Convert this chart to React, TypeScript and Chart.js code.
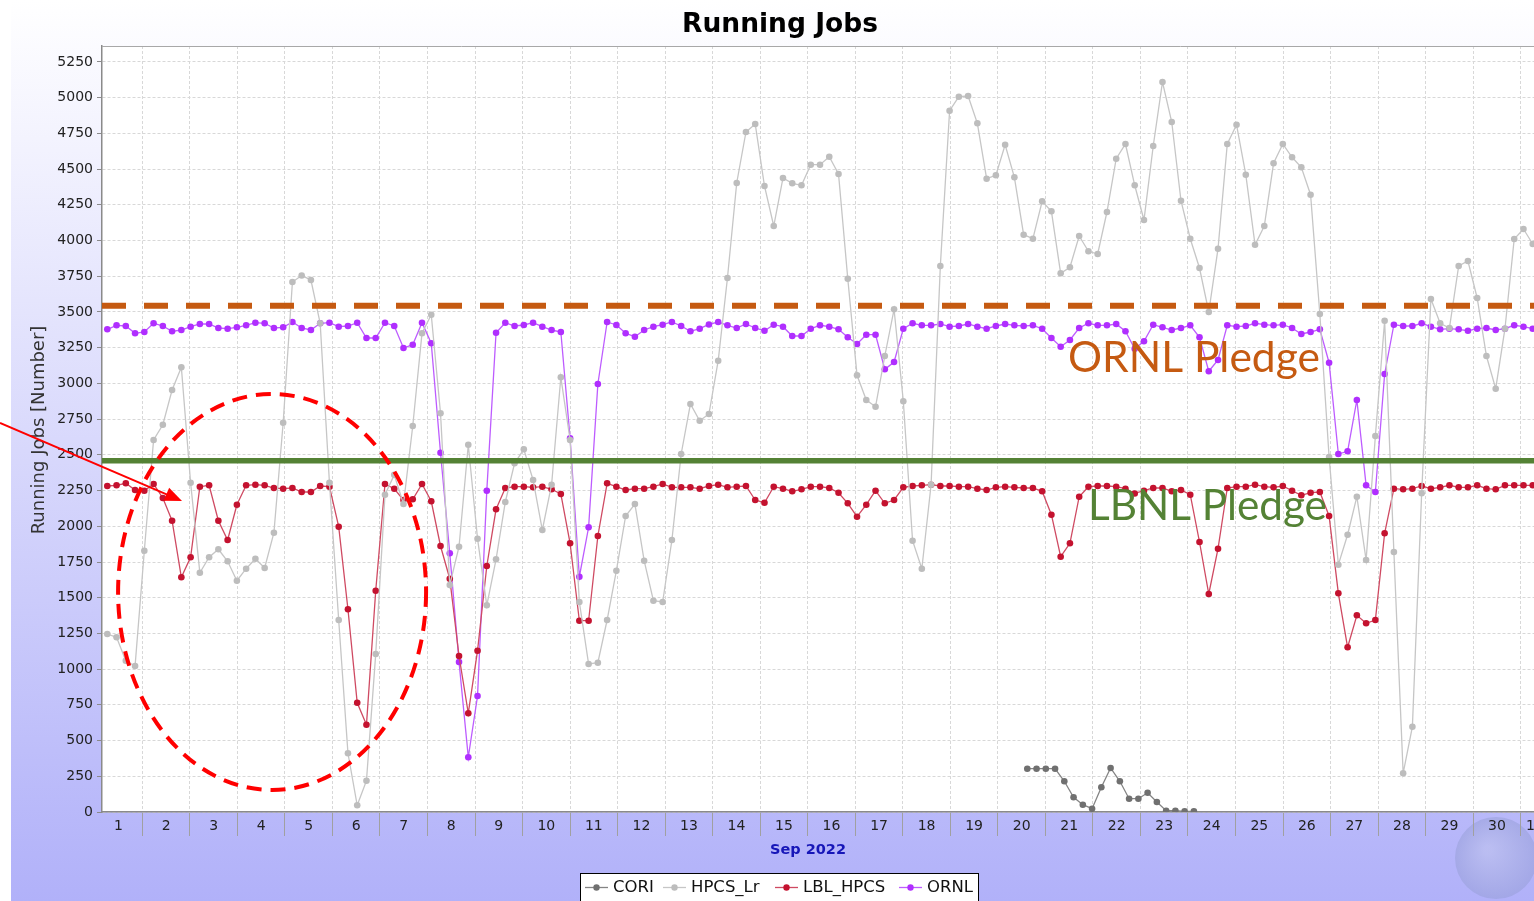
import React, { useEffect, useRef } from 'react';
import { Chart, registerables } from 'chart.js';

Chart.register(...registerables);

// ---------- text ----------
const TITLE = 'Running Jobs';
const Y_AXIS_TITLE = 'Running Jobs [Number]';
const X_AXIS_TITLE = 'Sep 2022';
const ORNL_PLEDGE_LABEL = 'ORNL Pledge';
const LBNL_PLEDGE_LABEL = 'LBNL Pledge';

// ---------- axes ----------
// day-of-month labels (the last one is Oct 1)
const DAY_LABELS = ['1', '2', '3', '4', '5', '6', '7', '8', '9', '10', '11', '12', '13', '14', '15', '16', '17', '18', '19', '20', '21', '22', '23', '24', '25', '26', '27', '28', '29', '30', '1'];
const Y_TICKS = [0, 250, 500, 750, 1000, 1250, 1500, 1750, 2000, 2250, 2500, 2750, 3000, 3250, 3500, 3750, 4000, 4250, 4500, 4750, 5000, 5250];
const X_MIN_DAY = 1.1515;
const X_MAX_DAY = 31.406;
const Y_MIN = 0;
const Y_MAX = 5362;

// sampling (fractional day of Sep 2022)
const SAMPLE_START_DAY = 1.263;
const CORI_START_DAY = 20.619;
const SAMPLE_STEP_DAY = 0.19474;

// ---------- series ----------
const SERIES_NAMES = ['CORI', 'HPCS_Lr', 'LBL_HPCS', 'ORNL'];

const CORI = [303, 303, 303, 303, 215, 103, 51, 23, 173, 308, 215, 93, 93, 135, 70, 9, 9, 5, 5];

const HPCS_LR = [
  1246, 1223, 1059, 1022, 1829, 2604, 2711, 2954, 3113, 2305,
  1675, 1783, 1839, 1755, 1619, 1703, 1773, 1708, 1955, 2725,
  3710, 3755, 3724, 3421, 2305, 1344, 411, 47, 219, 1106,
  2221, 2360, 2156, 2702, 3351, 3481, 2791, 1589, 1857, 2571,
  1913, 1447, 1769, 2170, 2441, 2539, 2324, 1974, 2291, 3043,
  2604, 1470, 1036, 1045, 1344, 1689, 2072, 2156, 1759, 1479,
  1470, 1904, 2506, 2856, 2739, 2786, 3159, 3738, 4403, 4760,
  4816, 4382, 4102, 4438, 4401, 4387, 4531, 4531, 4587, 4466,
  3733, 3057, 2884, 2837, 3192, 3519, 2875, 1899, 1703, 2291,
  3822, 4909, 5007, 5012, 4821, 4433, 4457, 4671, 4443, 4041,
  4013, 4275, 4205, 3771, 3813, 4032, 3925, 3906, 4200, 4573,
  4676, 4387, 4144, 4662, 5110, 4830, 4279, 4013, 3808, 3500,
  3943, 4676, 4811, 4461, 3971, 4102, 4541, 4676, 4583, 4513,
  4321, 3486, 2485, 1731, 1941, 2207, 1764, 2632, 3439, 1820,
  271, 597, 2231, 3591, 3421, 3388, 3822, 3857, 3598, 3192,
  2963, 3383, 4011, 4081, 3976,
];

const LBL_HPCS = [
  2282, 2287, 2301, 2254, 2249, 2296, 2198, 2039, 1643, 1783,
  2277, 2287, 2039, 1904, 2151, 2287, 2291, 2287, 2268, 2263,
  2268, 2240, 2240, 2282, 2277, 1997, 1419, 765, 611, 1549,
  2296, 2263, 2184, 2189, 2296, 2175, 1862, 1633, 1092, 691,
  1129, 1722, 2119, 2268, 2277, 2277, 2273, 2277, 2259, 2226,
  1881, 1339, 1339, 1932, 2301, 2277, 2254, 2263, 2263, 2277,
  2296, 2273, 2273, 2273, 2263, 2282, 2291, 2273, 2277, 2282,
  2184, 2165, 2277, 2263, 2245, 2259, 2277, 2277, 2268, 2235,
  2161, 2067, 2151, 2249, 2161, 2184, 2273, 2282, 2287, 2291,
  2282, 2282, 2277, 2277, 2263, 2254, 2273, 2277, 2273, 2268,
  2268, 2245, 2081, 1787, 1881, 2207, 2277, 2282, 2282, 2277,
  2263, 2230, 2249, 2268, 2268, 2245, 2254, 2221, 1890, 1526,
  1843, 2268, 2277, 2277, 2291, 2277, 2273, 2282, 2249, 2217,
  2235, 2240, 2072, 1531, 1153, 1377, 1321, 1344, 1951, 2263,
  2259, 2263, 2282, 2263, 2273, 2287, 2273, 2273, 2287, 2263,
  2259, 2287, 2287, 2287, 2287,
];

const ORNL = [
  3379, 3407, 3402, 3351, 3360, 3421, 3402, 3365, 3374, 3397,
  3416, 3416, 3388, 3383, 3393, 3407, 3425, 3421, 3388, 3393,
  3430, 3388, 3374, 3421, 3425, 3397, 3402, 3425, 3318, 3318,
  3425, 3402, 3248, 3271, 3425, 3281, 2515, 1811, 1050, 383,
  812, 2249, 3355, 3425, 3402, 3409, 3425, 3397, 3374, 3360,
  2616, 1647, 1993, 2996, 3430, 3409, 3351, 3327, 3374, 3397,
  3411, 3430, 3402, 3365, 3383, 3413, 3430, 3407, 3388, 3416,
  3388, 3369, 3411, 3397, 3332, 3332, 3383, 3407, 3397, 3379,
  3323, 3276, 3341, 3341, 3099, 3150, 3383, 3421, 3407, 3407,
  3416, 3397, 3402, 3416, 3397, 3383, 3402, 3416, 3407, 3402,
  3407, 3383, 3318, 3257, 3304, 3388, 3421, 3407, 3407, 3416,
  3365, 3243, 3295, 3411, 3393, 3374, 3388, 3407, 3323, 3085,
  3164, 3407, 3397, 3402, 3421, 3411, 3407, 3411, 3388, 3346,
  3360, 3379, 3145, 2506, 2525, 2884, 2287, 2240, 3066, 3411,
  3402, 3402, 3421, 3397, 3379, 3383, 3379, 3369, 3383, 3388,
  3374, 3383, 3407, 3397, 3383,
];

// pledge levels (annotations)
const ORNL_PLEDGE = 3544;
const LBNL_PLEDGE = 2459;

// annotation ellipse (in data units) and arrow
const ELLIPSE_DAYS = [1.49, 7.97];
const ELLIPSE_VALUES = [2926, 154];
const ARROW_FROM = { day: -0.995, value: 2723 };
const ARROW_TO = { day: 2.835, value: 2177 };
const ORNL_LABEL_AT = { day: 21.475, value: 3082 };
const LBNL_LABEL_AT = { day: 21.896, value: 2044 };

// ---------- styles ----------
const CANVAS_W = 1552;
const CANVAS_H = 901;
const FONT = '"DejaVu Sans", sans-serif';
const LINE_COLORS = ['#848484', '#c6c6c6', '#cf4a62', '#bd5cff'];
const DOT_COLORS = ['#707070', '#bdbdbd', '#c4122f', '#b02eff'];
const LEGEND_TEXT_X = [613, 691, 803, 927];

const toPoints = (values: number[], start: number) =>
  values.map((v, i) => ({ x: start + i * SAMPLE_STEP_DAY, y: v }));

const isBoundary = (v: number) => Math.abs(v - Math.round(v)) < 1e-6;

const decorPlugin = {
  id: 'decor',
  beforeDraw(chart: any) {
    const { ctx, chartArea: ca, width, height } = chart;
    ctx.save();
    ctx.fillStyle = '#ffffff';
    ctx.fillRect(0, 0, width, height);
    const g = ctx.createLinearGradient(0, 0, 0, height);
    g.addColorStop(0, '#ffffff');
    g.addColorStop(1, '#b1b1f9');
    ctx.fillStyle = g;
    ctx.fillRect(11, 0, width - 11, height);

    // faint globe watermark (under the axis labels)
    const gr = ctx.createRadialGradient(1488, 850, 4, 1496, 858, 42);
    gr.addColorStop(0, 'rgba(190,195,235,0.55)');
    gr.addColorStop(1, 'rgba(150,158,215,0.55)');
    ctx.fillStyle = gr;
    ctx.beginPath();
    ctx.arc(1496, 858, 41, 0, Math.PI * 2);
    ctx.fill();

    ctx.fillStyle = '#ffffff';
    ctx.fillRect(ca.left, ca.top, ca.right - ca.left, ca.bottom - ca.top);
    ctx.restore();
  },
  afterDatasetsDraw(chart: any) {
    const { ctx, chartArea: ca, scales } = chart;
    const x = scales.x;
    const y = scales.y;
    ctx.save();
    // ORNL pledge (dashed orange)
    const yO = y.getPixelForValue(ORNL_PLEDGE);
    ctx.strokeStyle = '#c55a11';
    ctx.lineWidth = 6;
    ctx.setLineDash([24, 18]);
    ctx.beginPath();
    ctx.moveTo(ca.left, yO);
    ctx.lineTo(ca.right, yO);
    ctx.stroke();
    // LBNL pledge (solid green)
    const yL = y.getPixelForValue(LBNL_PLEDGE);
    ctx.setLineDash([]);
    ctx.strokeStyle = '#548235';
    ctx.lineWidth = 5.5;
    ctx.beginPath();
    ctx.moveTo(ca.left, yL);
    ctx.lineTo(ca.right, yL);
    ctx.stroke();
    // dashed ellipse
    const ex1 = x.getPixelForValue(ELLIPSE_DAYS[0]);
    const ex2 = x.getPixelForValue(ELLIPSE_DAYS[1]);
    const ey1 = y.getPixelForValue(ELLIPSE_VALUES[0]);
    const ey2 = y.getPixelForValue(ELLIPSE_VALUES[1]);
    ctx.strokeStyle = '#ff0000';
    ctx.lineWidth = 4;
    ctx.setLineDash([15, 9]);
    ctx.beginPath();
    ctx.ellipse((ex1 + ex2) / 2, (ey1 + ey2) / 2, Math.abs(ex2 - ex1) / 2, Math.abs(ey2 - ey1) / 2, 0, 0, Math.PI * 2);
    ctx.stroke();
    ctx.restore();
  },
  afterDraw(chart: any) {
    const { ctx, chartArea: ca, scales, data } = chart;
    const x = scales.x;
    const y = scales.y;
    ctx.save();
    // plot top border
    ctx.strokeStyle = '#a8a8a8';
    ctx.lineWidth = 1;
    ctx.beginPath();
    ctx.moveTo(ca.left, ca.top + 0.5);
    ctx.lineTo(ca.right, ca.top + 0.5);
    ctx.stroke();

    // title
    ctx.fillStyle = '#000000';
    ctx.font = `bold 26.5px ${FONT}`;
    ctx.textAlign = 'center';
    ctx.textBaseline = 'alphabetic';
    ctx.fillText(TITLE, 780, 32);

    // y axis title
    ctx.save();
    ctx.translate(39, 430);
    ctx.rotate(-Math.PI / 2);
    ctx.font = `18px ${FONT}`;
    ctx.fillStyle = '#333333';
    ctx.textAlign = 'center';
    ctx.textBaseline = 'middle';
    ctx.fillText(Y_AXIS_TITLE, 0, 0);
    ctx.restore();

    // x axis title
    ctx.font = `bold 14.5px ${FONT}`;
    ctx.fillStyle = '#1717b8';
    ctx.textAlign = 'center';
    ctx.textBaseline = 'middle';
    ctx.fillText(X_AXIS_TITLE, 808, 850);

    // legend
    ctx.fillStyle = '#ffffff';
    ctx.fillRect(580.5, 873.5, 398, 40);
    ctx.strokeStyle = '#000000';
    ctx.lineWidth = 1;
    ctx.strokeRect(580.5, 873.5, 398, 40);
    ctx.font = `16.5px ${FONT}`;
    ctx.textAlign = 'left';
    ctx.textBaseline = 'middle';
    data.datasets.forEach((ds: any, i: number) => {
      const tx = LEGEND_TEXT_X[i];
      const cy = 887.5;
      ctx.strokeStyle = ds.borderColor;
      ctx.lineWidth = 1.3;
      ctx.beginPath();
      ctx.moveTo(tx - 28, cy);
      ctx.lineTo(tx - 5, cy);
      ctx.stroke();
      ctx.fillStyle = ds.pointBackgroundColor;
      ctx.beginPath();
      ctx.arc(tx - 16.5, cy, 3.2, 0, Math.PI * 2);
      ctx.fill();
      ctx.fillStyle = '#111111';
      ctx.fillText(ds.label, tx, cy);
    });

    // arrow
    const ax1 = x.getPixelForValue(ARROW_FROM.day);
    const ay1 = y.getPixelForValue(ARROW_FROM.value);
    const ax2 = x.getPixelForValue(ARROW_TO.day);
    const ay2 = y.getPixelForValue(ARROW_TO.value);
    const ang = Math.atan2(ay2 - ay1, ax2 - ax1);
    const headLen = 17;
    const headHalf = 7;
    ctx.strokeStyle = '#ff0000';
    ctx.fillStyle = '#ff0000';
    ctx.lineWidth = 2;
    ctx.beginPath();
    ctx.moveTo(ax1, ay1);
    ctx.lineTo(ax2 - Math.cos(ang) * headLen * 0.8, ay2 - Math.sin(ang) * headLen * 0.8);
    ctx.stroke();
    ctx.beginPath();
    ctx.moveTo(ax2, ay2);
    ctx.lineTo(ax2 - Math.cos(ang) * headLen - Math.sin(ang) * headHalf, ay2 - Math.sin(ang) * headLen + Math.cos(ang) * headHalf);
    ctx.lineTo(ax2 - Math.cos(ang) * headLen + Math.sin(ang) * headHalf, ay2 - Math.sin(ang) * headLen - Math.cos(ang) * headHalf);
    ctx.closePath();
    ctx.fill();

    // pledge labels
    const drawFitted = (text: string, at: { day: number; value: number }, targetW: number, color: string) => {
      ctx.font = `100px Lato, "Open Sans", sans-serif`;
      const w = ctx.measureText(text).width;
      const size = (100 * targetW) / w;
      ctx.font = `${size}px Lato, "Open Sans", sans-serif`;
      ctx.fillStyle = color;
      ctx.textAlign = 'left';
      ctx.textBaseline = 'alphabetic';
      ctx.fillText(text, x.getPixelForValue(at.day), y.getPixelForValue(at.value));
    };
    drawFitted(ORNL_PLEDGE_LABEL, ORNL_LABEL_AT, 252, '#c55a11');
    drawFitted(LBNL_PLEDGE_LABEL, LBNL_LABEL_AT, 239, '#548235');

    ctx.restore();
  },
};

export default function App() {
  const canvasRef = useRef<HTMLCanvasElement | null>(null);

  useEffect(() => {
    const canvas = canvasRef.current;
    if (!canvas) return;
    const seriesValues = [CORI, HPCS_LR, LBL_HPCS, ORNL];
    const starts = [CORI_START_DAY, SAMPLE_START_DAY, SAMPLE_START_DAY, SAMPLE_START_DAY];
    const datasets = SERIES_NAMES.map((name, i) => ({
      label: name,
      data: toPoints(seriesValues[i], starts[i]),
      borderColor: LINE_COLORS[i],
      backgroundColor: DOT_COLORS[i],
      pointBackgroundColor: DOT_COLORS[i],
      pointBorderWidth: 0,
      pointRadius: 3.3,
      borderWidth: 1.3,
      tension: 0,
      fill: false,
    }));

    const chart = new Chart(canvas, {
      type: 'line',
      data: { datasets } as any,
      plugins: [decorPlugin],
      options: {
        responsive: false,
        animation: false,
        devicePixelRatio: 1,
        layout: { padding: { left: 0, right: 12, top: 46, bottom: 0 } },
        plugins: {
          legend: { display: false },
          title: { display: false },
          tooltip: { enabled: false },
        },
        events: [],
        scales: {
          x: {
            type: 'linear',
            min: X_MIN_DAY,
            max: X_MAX_DAY,
            afterBuildTicks: (scale: any) => {
              const ticks: { value: number }[] = [];
              for (let d = Math.ceil(scale.min); d <= Math.floor(scale.max); d++) ticks.push({ value: d });
              DAY_LABELS.forEach((_, k) => {
                const d = k + 1;
                if (d >= scale.max) return;
                const v = d + 1 <= scale.max ? d + 0.5 : (d + scale.max) / 2;
                ticks.push({ value: v });
              });
              ticks.sort((a, b) => a.value - b.value);
              scale.ticks = ticks;
            },
            afterFit: (scale: any) => {
              scale.height = 89;
            },
            grid: {
              color: (c: any) => (c.tick && isBoundary(c.tick.value) ? '#d8d8d8' : 'rgba(0,0,0,0)'),
              lineWidth: 1,
              drawTicks: true,
              tickLength: 24,
              tickWidth: 1,
              tickColor: (c: any) => (c.tick && isBoundary(c.tick.value) ? '#a0a0a0' : 'rgba(0,0,0,0)'),
            },
            border: { display: true, color: '#8a8a8a', width: 1.5, dash: [3, 2] },
            ticks: {
              autoSkip: false,
              maxRotation: 0,
              minRotation: 0,
              padding: -18,
              color: '#222222',
              font: { family: 'DejaVu Sans', size: 14 },
              callback: (value: any) => {
                const v = Number(value);
                if (isBoundary(v)) return '';
                return DAY_LABELS[Math.floor(v) - 1] ?? '';
              },
            },
          },
          y: {
            type: 'linear',
            min: Y_MIN,
            max: Y_MAX,
            afterBuildTicks: (scale: any) => {
              scale.ticks = Y_TICKS.map((v) => ({ value: v }));
            },
            afterFit: (scale: any) => {
              scale.width = 102;
            },
            grid: {
              color: '#d8d8d8',
              lineWidth: 1,
              drawTicks: true,
              tickLength: 5,
              tickColor: '#8a8a8a',
            },
            border: { display: true, color: '#8a8a8a', width: 1.5, dash: [3, 2] },
            ticks: {
              autoSkip: false,
              padding: 4,
              color: '#222222',
              font: { family: 'DejaVu Sans', size: 14 },
              callback: (value: any) => String(Math.round(Number(value))),
            },
          },
        },
      } as any,
    });
    return () => chart.destroy();
  }, []);

  return (
    <div
      style={{
        position: 'fixed',
        left: 0,
        top: 0,
        width: '100vw',
        height: '100vh',
        overflow: 'hidden',
        background: '#ffffff',
      }}
    >
      <canvas
        ref={canvasRef}
        width={CANVAS_W}
        height={CANVAS_H}
        style={{ display: 'block', width: CANVAS_W, height: CANVAS_H }}
      />
    </div>
  );
}
